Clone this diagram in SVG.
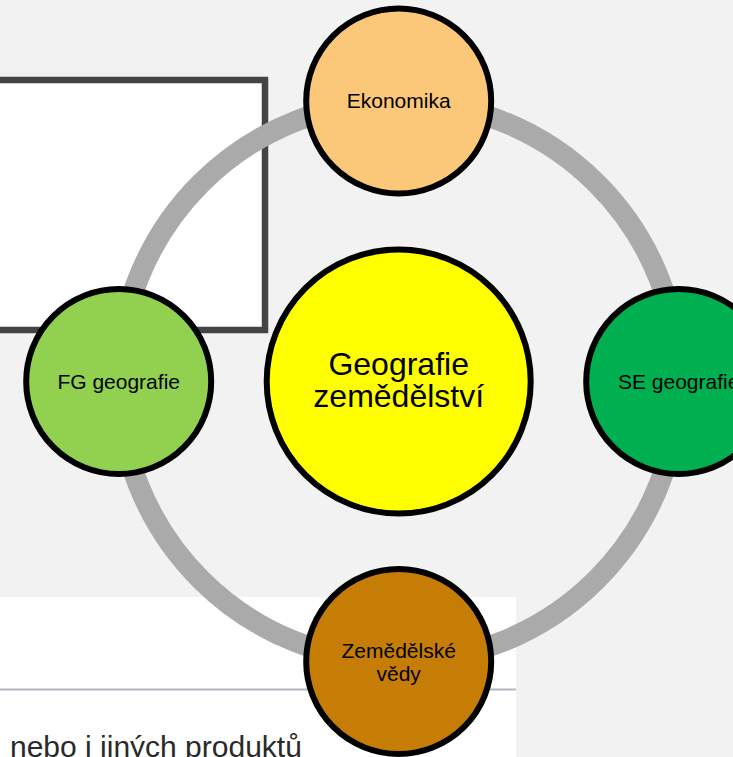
<svg xmlns="http://www.w3.org/2000/svg" width="733" height="757" viewBox="0 0 733 757">
<style>
.node{stroke:#000;stroke-width:6}
.lbl{font-family:"Liberation Sans",Arial,sans-serif;font-size:21px;fill:#000;text-anchor:middle}
.big{font-size:32px}
</style>
<rect x="0" y="0" width="733" height="757" fill="#f2f2f2"/>
<g id="panel-top">
<rect x="-10" y="80" width="275" height="250" fill="#fff" stroke="#444" stroke-width="6.5"/>
</g>
<g id="panel-bottom">
<rect x="0" y="597" width="516" height="160" fill="#fff"/>
<line x1="0" y1="689.5" x2="516" y2="689.5" stroke="#b0b8c0" stroke-width="2"/>
<text x="10" y="757" font-family="'Liberation Sans',Arial,sans-serif" font-size="30" fill="#2a2a2a">nebo i jiných produktů</text>
</g>
<g id="connectors">
<circle cx="398.7" cy="381.5" r="280" fill="none" stroke="#aaaaaa" stroke-width="21"/>
</g>
<g id="center">
<circle class="node" cx="398.7" cy="381.5" r="132" fill="#ffff00"/>
<text class="lbl big" x="398.7" y="375">Geografie</text>
<text class="lbl big" x="398.7" y="407">zemědělství</text>
</g>
<g id="ekonomika">
<circle class="node" cx="398.7" cy="101" r="92.5" fill="#fac878"/>
<text class="lbl" x="398.7" y="108">Ekonomika</text>
</g>
<g id="fg-geografie">
<circle class="node" cx="118.7" cy="381.5" r="92.5" fill="#92d050"/>
<text class="lbl" x="118.7" y="388.5">FG geografie</text>
</g>
<g id="se-geografie">
<circle class="node" cx="678.7" cy="381.5" r="92.5" fill="#00b050"/>
<text class="lbl" x="678.7" y="388.5">SE geografie</text>
</g>
<g id="zemedelske-vedy">
<circle class="node" cx="398.7" cy="661.5" r="92.5" fill="#c57d05"/>
<text class="lbl" x="398.7" y="658">Zemědělské</text>
<text class="lbl" x="398.7" y="680.5">vědy</text>
</g>
</svg>
